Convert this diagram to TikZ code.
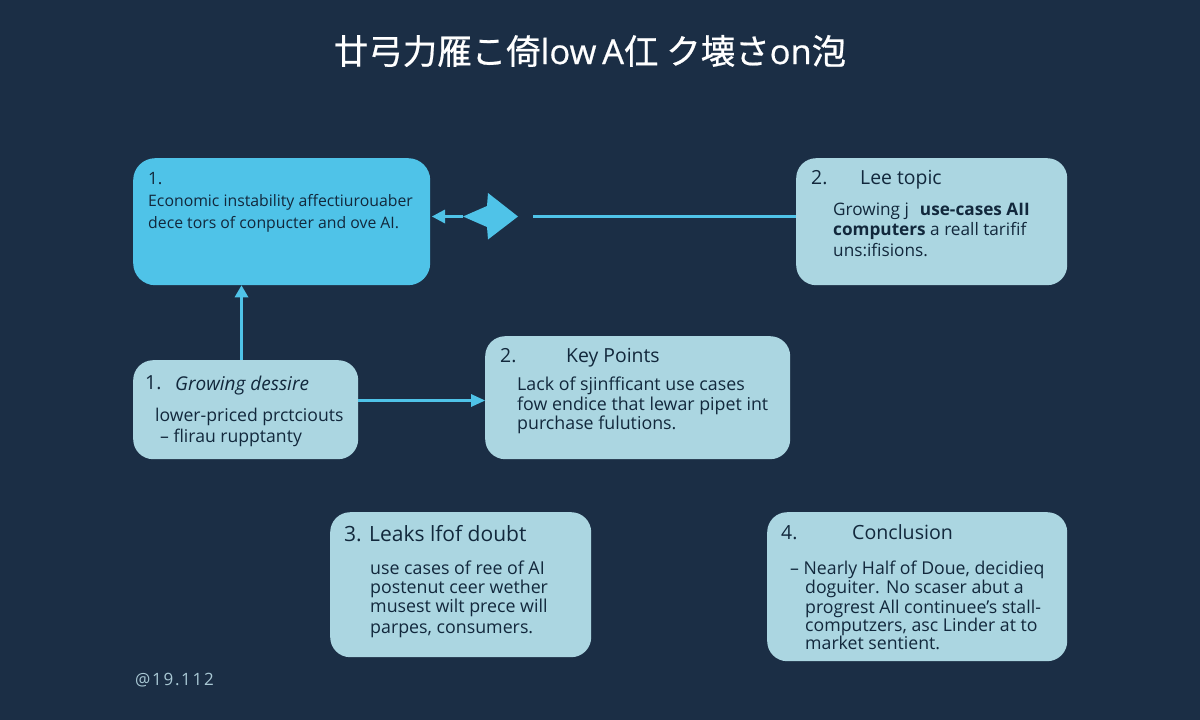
\documentclass[tikz,border=0pt]{standalone}
\usepackage{fontspec}
\setmainfont{Open Sans}
\newfontfamily\cjk[FakeBold=0.6]{Noto Sans CJK JP}
\newfontfamily\titlelatin[FakeBold=0.6]{Open Sans}
\newfontfamily\footfont[LetterSpace=10]{Open Sans}
\definecolor{bgc}{HTML}{1B2E45}
\definecolor{hot}{HTML}{4FC3E8}
\definecolor{pale}{HTML}{ABD6E1}
\definecolor{ink}{HTML}{12283C}
\definecolor{foot}{HTML}{A9C8D4}
\newcommand{\fsz}[1]{\fontsize{#1}{#1}\selectfont}
\tikzset{
  hotbox/.style={fill=hot,rounded corners=22pt,inner sep=0pt,anchor=north west},
  palebox/.style={fill=pale,rounded corners=20pt,inner sep=0pt,anchor=north west},
  head/.style={anchor=mid west,inner sep=0pt,yshift=-4.3pt,text=ink,font=\fsz{19.4}},
  body/.style={anchor=mid west,inner sep=0pt,yshift=-4pt,text=ink,font=\fsz{#1}},
  link/.style={draw=hot,line width=2.8pt},
}
\begin{document}
\begin{tikzpicture}[x=1pt,y=-1pt]
\useasboundingbox (0,0) rectangle (1200,720);
\fill[bgc] (0,0) rectangle (1200,720);
\node[text=white,inner sep=0pt,font=\fsz{34.5}] (title) at (590,51) {{\cjk 廿弓力雁こ倚}{\titlelatin low\,A}{\cjk 仜 ク壊さ}{\titlelatin on}{\cjk 泡}};

\node[hotbox,minimum width=297pt,minimum height=127pt] (b1) at (133,158) {};
\node[palebox,minimum width=271pt,minimum height=127pt] (b2) at (796,158) {};
\node[palebox,minimum width=225pt,minimum height=99pt] (b3) at (133,360) {};
\node[palebox,minimum width=305pt,minimum height=123pt] (b4) at (485,336) {};
\node[palebox,minimum width=261pt,minimum height=145pt] (b5) at (330,512) {};
\node[palebox,minimum width=300pt,minimum height=149pt] (b6) at (767,512) {};

\node[body=17] (t11) at (148,178) {1.};
\node[body=15.8] (t12) at (148,200) {Economic instability affectiurouaber};
\node[body=15.8] (t13) at (148,222) {dece tors of conpucter and ove AI.};

\node[head] (t21) at (811,178) {2.};
\node[head] (t22) at (860,178) {Lee topic};
\node[body=17.2] (t23) at (833,209) {Growing j\hspace{11pt}\textbf{use-cases AII}};
\node[body=17.2] (t24) at (833,229) {\textbf{computers} a reall tarifif};
\node[body=17.2] (t25) at (833,250) {uns:ifisions.};

\node[head] (t31) at (145,383) {1.};
\node[head,font=\fsz{19}\itshape] (t32) at (175,384) {Growing dessire};
\node[body=17.6] (t33) at (155,415) {lower-priced prctciouts};
\node[body=17.6] (t34) at (160,436) {– flirau rupptanty};

\node[head] (t41) at (500,356) {2.};
\node[head] (t42) at (566,356) {Key Points};
\node[body=17.8] (t43) at (517,384) {Lack of sjinfficant use cases};
\node[body=17.8] (t44) at (517,404) {fow endice that lewar pipet int};
\node[body=17.8] (t45) at (517,423) {purchase fulutions.};

\node[head,font=\fsz{21}] (t51) at (344,535) {3.};
\node[head,font=\fsz{21}] (t52) at (369,535) {Leaks lfof doubt};
\node[body=17.8] (t53) at (370,568) {use cases of ree of AI};
\node[body=17.8] (t54) at (370,587) {postenut ceer  wether};
\node[body=17.8] (t55) at (370,606) {musest wilt prece will};
\node[body=17.8] (t56) at (370,627) {parpes, consumers.};

\node[head] (t61) at (781,533) {4.};
\node[head,font=\fsz{19.6}] (t62) at (852,533) {Conclusion};
\node[body=17.7] (t63) at (790,568) {– Nearly Half of Doue, decidieq};
\node[body=17.7] (t64) at (805,587) {doguiter. No scaser abut a};
\node[body=17.7] (t65) at (805,607) {progrest All continuee's stall-};
\node[body=17.7] (t66) at (805,625) {computzers, asc Linder at to};
\node[body=17.7] (t67) at (805,643) {market sentient.};

\node[anchor=mid west,inner sep=0pt,yshift=-3.5pt,text=foot,font=\fsz{17}\footfont] (foot) at (135,679) {@19.112};

% connectors
\coordinate (u) at (241.5,360);
\draw[link] (u) -- ([yshift=-10pt]u |- b1.south);
\fill[hot] (u |- b1.south) -- ++(7,12) -- ++(-14,0) -- cycle;

\coordinate (r) at (358,400.5);
\draw[link] (r) -- ([xshift=-10pt]r -| b4.west);
\fill[hot] (r -| b4.west) -- ++(-14,-6.5) -- ++(0,13) -- cycle;

\coordinate (k) at (533,216.5);
\draw[link] (k) -- (k -| b2.west);

\coordinate (kiteL) at (463,216.5);
\coordinate (tipL) at (436,216.5);
\draw[link] (tipL) -- (kiteL);
\fill[hot] (432,216.5) -- (445,209.5) -- (445,223.5) -- cycle;
\fill[hot] (kiteL) -- (487,206) -- (488,193) -- (518,216.5) -- (488,239.5) -- (487,227) -- cycle;
\end{tikzpicture}
\end{document}
